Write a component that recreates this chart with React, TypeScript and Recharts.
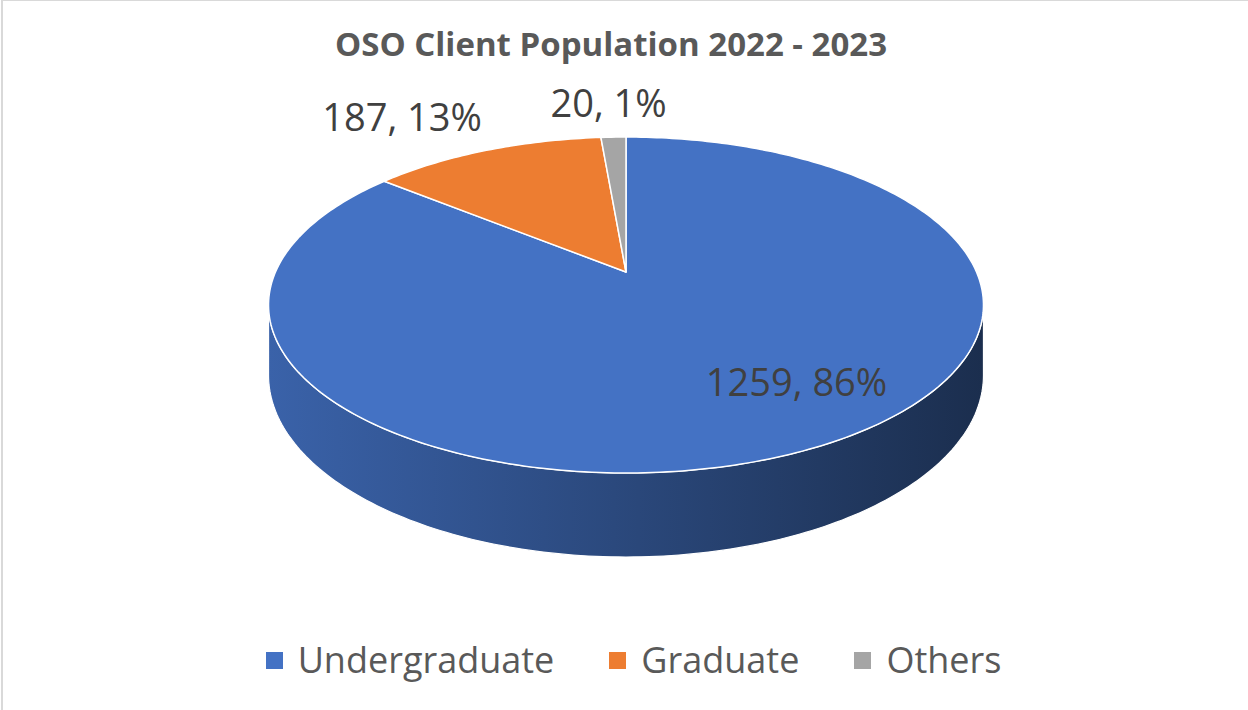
import { PieChart, Pie, Legend } from "recharts";

const categories = ["Undergraduate", "Graduate", "Others"];
const clients = [1259, 187, 20];
const colors = ["#4472C4", "#ED7D31", "#A5A5A5"];

const data = categories.map((name, i) => ({ name, value: clients[i], fill: colors[i] }));

// fake 3d: perspective projection of the pie disc (Excel style)
const RX = 350.5;
const RY = 161.5;
const PERSP = 0.1965;
const DEPTH = 67.5;
const RAD = Math.PI / 180;
const EDGE = Math.asin(PERSP) / RAD;

const project = (cx: number, cy: number, angle: number, f: number, drop: number) => {
  const X = f * Math.cos(angle * RAD);
  const Z = f * Math.sin(angle * RAD);
  const w = 1 + PERSP * Z;
  return [cx + (RX * X) / w, cy + (drop - RY * Z) / w];
};

const arc = (cx: number, cy: number, a1: number, a2: number, drop: number) => {
  const n = Math.max(2, Math.ceil(Math.abs(a2 - a1)));
  const pts: number[][] = [];
  for (let i = 0; i <= n; i++) pts.push(project(cx, cy, a1 + ((a2 - a1) * i) / n, 1, drop));
  return pts;
};

const toPath = (pts: number[][]) =>
  "M" + pts.map((p) => `${p[0].toFixed(2)},${p[1].toFixed(2)}`).join("L") + "Z";

const shade = (hex: string, k: number) => {
  const n = parseInt(hex.slice(1), 16);
  const c = [(n >> 16) & 255, (n >> 8) & 255, n & 255].map((v) => Math.round(v * k));
  return `rgb(${c[0]},${c[1]},${c[2]})`;
};

// visible front part of the side wall
const frontRanges = (start: number, end: number) => {
  const lo = Math.min(start, end);
  const hi = Math.max(start, end);
  const out: number[][] = [];
  for (let k = -2; k <= 1; k++) {
    const a = Math.max(lo, -180 + EDGE + 360 * k);
    const b = Math.min(hi, -EDGE + 360 * k);
    if (b > a) out.push([a, b]);
  }
  return out;
};

const WallShape = (props: any) => {
  const { cx, cy, startAngle, endAngle, fill } = props;
  const ranges = frontRanges(startAngle, endAngle);
  const id = `wall-${String(fill).replace("#", "")}`;
  return (
    <g>
      <defs>
        <linearGradient id={id} gradientUnits="userSpaceOnUse" x1={cx - RX * 1.02} x2={cx + RX * 1.02} y1={0} y2={0}>
          <stop offset="0%" stopColor={shade(fill, 0.86)} />
          <stop offset="100%" stopColor={shade(fill, 0.4)} />
        </linearGradient>
      </defs>
      {ranges.map(([a, b], i) => (
        <path
          key={i}
          d={toPath([...arc(cx, cy, a, b, 0), ...arc(cx, cy, b, a, DEPTH)])}
          fill={`url(#${id})`}
          stroke="#ffffff"
          strokeWidth={1.2}
        />
      ))}
    </g>
  );
};

const TopShape = (props: any) => {
  const { cx, cy, startAngle, endAngle, fill } = props;
  return (
    <path
      d={toPath([[cx, cy], ...arc(cx, cy, startAngle, endAngle, 0)])}
      fill={fill}
      stroke="#ffffff"
      strokeWidth={1.5}
      strokeLinejoin="round"
    />
  );
};

const renderLabel = (props: any) => {
  const { cx, cy, midAngle, percent, value } = props;
  const text = `${value}, ${Math.round(percent * 100)}%`;
  if (percent > 0.5) {
    const [x, y] = project(cx, cy, midAngle + 10, 0.74, 0);
    return (
      <text x={x} y={y} dy="0.35em" textAnchor="middle" fill="#404040" fontSize={38} fontFamily="'Open Sans'">
        {text}
      </text>
    );
  }
  const [x, y] = project(cx, cy, midAngle, 1.08, 0);
  const c = Math.cos(midAngle * RAD);
  const anchor = Math.abs(c) < 0.25 ? "middle" : c < 0 ? "end" : "start";
  const dx = anchor === "end" ? 5 : anchor === "start" ? -5 : -4;
  return (
    <text x={x + dx} y={y - 11} textAnchor={anchor} fill="#404040" fontSize={38} fontFamily="'Open Sans'">
      {text}
    </text>
  );
};

const renderLegend = (props: any) => {
  const seen: Record<string, boolean> = {};
  const items = (props.payload || [])
    .filter((e: any) => e.type !== "none" && !seen[e.value] && (seen[e.value] = true))
    .sort((a: any, b: any) => categories.indexOf(a.value) - categories.indexOf(b.value));
  return (
    <div
      style={{
        display: "flex",
        justifyContent: "center",
        alignItems: "center",
        fontFamily: "'Open Sans'",
        fontSize: 36,
        lineHeight: "36px",
        color: "#595959",
        paddingLeft: 19,
      }}
    >
      {items.map((entry: any, i: number) => (
        <div key={entry.value} style={{ display: "flex", alignItems: "center", marginLeft: i ? 55 : 0 }}>
          <span style={{ display: "inline-block", width: 17, height: 17, background: entry.color, marginRight: 15 }} />
          <span>{entry.value}</span>
        </div>
      ))}
    </div>
  );
};

const App = () => {
  return (
    <div style={{ position: "absolute", left: 0, top: 0, width: 1248, height: 710, background: "#ffffff" }}>
      <div
        style={{
          position: "absolute",
          left: 1,
          top: 0,
          width: 1247,
          height: 710,
          borderTop: "1px solid #d9d9d9",
          borderLeft: "2px solid #d9d9d9",
          boxSizing: "border-box",
        }}
      />
      <div
        style={{
          position: "absolute",
          left: 0,
          top: 27,
          width: 1222,
          textAlign: "center",
          fontFamily: "'Open Sans'",
          fontWeight: 700,
          fontSize: 33,
          lineHeight: "33px",
          color: "#595959",
        }}
      >
        OSO Client Population 2022 - 2023
      </div>
      <PieChart width={1248} height={710} margin={{ top: 0, right: 0, bottom: 0, left: 0 }}>
        <Pie
          data={data}
          dataKey="value"
          nameKey="name"
          cx={626}
          cy={272}
          outerRadius={160}
          startAngle={90}
          endAngle={-270}
          shape={WallShape}
          legendType="none"
          isAnimationActive={false}
        />
        <Pie
          data={data}
          dataKey="value"
          nameKey="name"
          cx={626}
          cy={272}
          outerRadius={160}
          startAngle={90}
          endAngle={-270}
          shape={TopShape}
          label={renderLabel}
          labelLine={false}
          isAnimationActive={false}
        />
        <Legend
          verticalAlign="bottom"
          content={renderLegend}
          wrapperStyle={{ top: 642, bottom: "auto", left: 0, width: 1248 }}
        />
      </PieChart>
    </div>
  );
};

export default App;
